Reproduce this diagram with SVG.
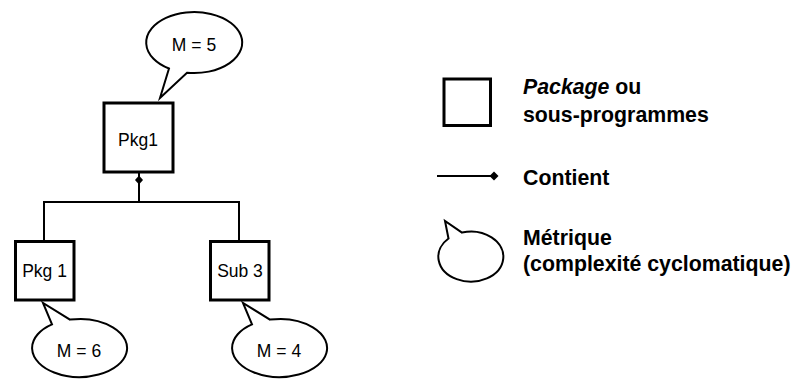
<svg xmlns="http://www.w3.org/2000/svg" width="795" height="379" viewBox="0 0 795 379">
<style>
.box{fill:#fff;stroke:#000;stroke-width:3}
.bub{fill:#fff;stroke:#000;stroke-width:2;stroke-linejoin:miter}
.line{fill:none;stroke:#000;stroke-width:2}
.nt{font-family:"Liberation Sans",Arial,sans-serif;font-size:17.5px;fill:#000;text-anchor:middle}
.lt{font-family:"Liberation Sans",Arial,sans-serif;font-size:21.3px;font-weight:bold;fill:#000}
</style>
<rect width="795" height="379" fill="#fff"/>
<g id="connectors">
<path class="line" d="M139 173V202M44 202H239M44 201V242M239 201V242"/>
<polygon points="139,175.5 143,180 139,184.5 135,180" fill="#000"/>
</g>
<g id="pkg1">
<rect class="box" x="104" y="103" width="69" height="69"/>
<text class="nt" x="138" y="146">Pkg1</text>
</g>
<g id="bubble-m5">
<path class="bub" d="M169 68.5 L160 98 L187 72.7 A48 30.5 0 1 0 169 68.5 Z"/>
<text class="nt" x="194" y="50.5">M = 5</text>
</g>
<g id="pkg-1">
<rect class="box" x="15.5" y="241.5" width="58.5" height="58.5"/>
<text class="nt" x="44.5" y="277">Pkg 1</text>
</g>
<g id="sub3">
<rect class="box" x="210.5" y="241.5" width="58.5" height="58.5"/>
<text class="nt" x="240" y="277">Sub 3</text>
</g>
<g id="bubble-m6">
<path class="bub" d="M52 324.4 L43 303 L70 319.6 A47.5 29 0 1 1 52 324.4 Z"/>
<text class="nt" x="79" y="357">M = 6</text>
</g>
<g id="bubble-m4">
<path class="bub" d="M252 324.4 L243 303 L270 319.6 A47.5 29 0 1 1 252 324.4 Z"/>
<text class="nt" x="279" y="357">M = 4</text>
</g>
<g id="legend-package">
<rect class="box" x="444" y="79" width="46.5" height="46.5"/>
<text class="lt" x="523" y="94"><tspan font-style="italic">Package</tspan> ou</text>
<text class="lt" x="523" y="122">sous-programmes</text>
</g>
<g id="legend-contient">
<path class="line" d="M437 176H494"/>
<polygon points="494,171.5 498.5,176 494,180.5 489.5,176" fill="#000"/>
<text class="lt" x="523" y="185">Contient</text>
</g>
<g id="legend-metrique">
<path class="bub" d="M448.5 238.5 L445 221 L462 232.6 A32.5 25 0 1 1 448.5 238.5 Z"/>
<text class="lt" x="523" y="245">Métrique</text>
<text class="lt" x="523" y="271">(complexité cyclomatique)</text>
</g>
</svg>
